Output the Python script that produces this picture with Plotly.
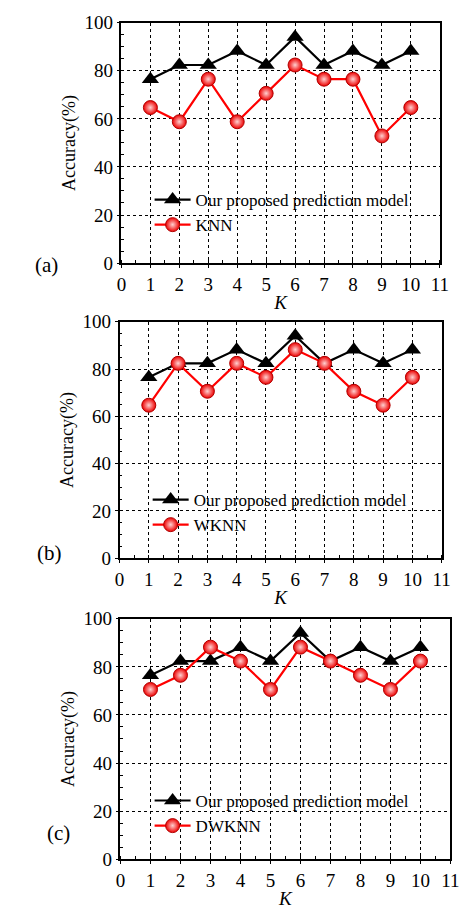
import plotly.graph_objects as go

K = [1, 2, 3, 4, 5, 6, 7, 8, 9, 10]
ours = [76.5, 82.4, 82.4, 88.2, 82.4, 94.1, 82.4, 88.2, 82.4, 88.2]
knn = [64.7, 58.8, 76.5, 58.8, 70.6, 82.4, 76.5, 76.5, 52.9, 64.7]
wknn = [64.7, 82.4, 70.6, 82.4, 76.5, 88.2, 82.4, 70.6, 64.7, 76.5]
dwknn = [70.6, 76.5, 88.2, 82.4, 70.6, 88.2, 82.4, 76.5, 70.6, 82.4]
other_names = ["KNN", "WKNN", "DWKNN"]
panel_labels = ["(a)", "(b)", "(c)"]
x_ticks = list(range(0, 12))
y_ticks = [0, 20, 40, 60, 80, 100]

W, H = 474, 921
FONT = "Liberation Serif, Times New Roman, serif"

# plot-area pixel boxes (left, right, top, bottom)
boxes = [(120, 448, 13, 259), (118, 450, 319, 561), (119, 459, 623, 869)]
legend_pos = [(149, 176), (147, 483), (149, 791)]
label_pos = [(29, 247), (31, 556), (41, 857)]

fig = go.Figure()
others = [knn, wknn, dwknn]
for i in range(3):
    sfx = "" if i == 0 else str(i + 1)
    xa, ya = "x" + sfx, "y" + sfx
    leg = "legend" + sfx
    fig.add_trace(go.Scatter(
        x=K, y=ours, mode="lines+markers", name="Our proposed prediction model",
        xaxis=xa, yaxis=ya, legend=leg,
        line=dict(color="black", width=2.2),
        marker=dict(symbol="triangle-up", size=15, color="black"),
    ))
    fig.add_trace(go.Scatter(
        x=K, y=others[i], mode="lines+markers", name=other_names[i],
        xaxis=xa, yaxis=ya, legend=leg,
        line=dict(color="#ff0000", width=2.2),
        marker=dict(symbol="circle", size=14, color="#ee0000",
                    gradient=dict(type="radial", color="#ffd0d0"),
                    line=dict(color="#b00000", width=1)),
    ))
    l, r, t, b = boxes[i]
    axcommon = dict(
        showline=True, linecolor="black", linewidth=1.5, mirror=True,
        ticks="outside", ticklen=3, tickcolor="black", tickwidth=1,
        showgrid=True, gridcolor="black", griddash="dot", gridwidth=1,
        zeroline=False,
        tickfont=dict(family=FONT, size=19, color="black"),
        minor=dict(ticks="inside", ticklen=3, tickcolor="black", showgrid=False),
    )
    fig.layout["xaxis" + sfx] = dict(
        axcommon, domain=[l / W, r / W], range=[0, 11], tickvals=x_ticks,
        anchor=ya, ticklabelstandoff=0,
        title=dict(text="<i>K</i>", font=dict(family=FONT, size=19, color="black"), standoff=2),
    )
    fig.layout["yaxis" + sfx] = dict(
        axcommon, domain=[1 - b / H, 1 - t / H], range=[0, 100], tickvals=y_ticks,
        anchor=xa, ticklabelstandoff=0,
        title=dict(text="Accuracy(%)", font=dict(family=FONT, size=18, color="black"), standoff=4),
    )
    lx, ly = legend_pos[i]
    fig.layout[leg] = dict(
        x=lx / W, y=1 - ly / H, xanchor="left", yanchor="top",
        bgcolor="rgba(0,0,0,0)", borderwidth=0,
        font=dict(family=FONT, size=17, color="black"),
        tracegroupgap=0, itemwidth=36,
    )
    px, py = label_pos[i]
    fig.add_annotation(x=px / W, y=1 - py / H, xref="paper", yref="paper",
                       text=panel_labels[i], showarrow=False,
                       font=dict(family=FONT, size=21, color="black"))

fig.update_layout(
    width=W, height=H, margin=dict(l=0, r=0, t=0, b=0),
    paper_bgcolor="white", plot_bgcolor="white", showlegend=True,
)
fig.write_html("out.html")
